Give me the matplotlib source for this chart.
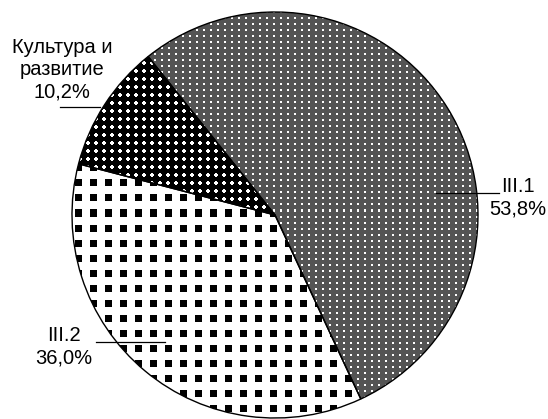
import numpy as np
import matplotlib
matplotlib.use("Agg")
import matplotlib.pyplot as plt

plt.rcParams['font.family'] = ['Liberation Sans', 'DejaVu Sans']

# data
labels = ["III.1", "Культура и\nразвитие", "III.2"]
shares = [53.8, 10.2, 36.0]
pct_text = ["53,8%", "10,2%", "36,0%"]

W, H = 548, 419
CX, CY, R = 275, 215, 203  # pie centre and radius in pixels (from top)


def px(x, y):
    # pixel position (from top-left) -> data coordinates
    return (x - CX) / R, (CY - y) / R


def texture(kind):
    yy, xx = np.mgrid[0:H, 0:W]
    img = np.ones((H, W, 3))
    if kind == "grey_dots":
        img[:] = 0.33
        m = ((xx % 7) < 2) & ((yy % 6) < 2)
        img[m] = 1.0
    elif kind == "black_dots":
        dx = (xx % 8) - 3.5
        dy = (yy % 8) - 3.5
        m = dx ** 2 + dy ** 2 < 4.0 ** 2
        img[m] = 0.0
    elif kind == "squares":
        m = ((xx % 15) < 7) & ((yy % 15) < 7)
        img[m] = 0.0
    return img


fig = plt.figure(figsize=(W / 100, H / 100), dpi=100)
ax = fig.add_axes([0, 0, 1, 1])

wedges, _ = ax.pie(shares, startangle=-65, counterclock=True, radius=1,
                   colors=["none"] * 3,
                   wedgeprops=dict(edgecolor="black", linewidth=1.0))

xl = px(0, 0)[0], px(W, 0)[0]
yl = px(0, H)[1], px(0, 0)[1]
ax.set_xlim(xl)
ax.set_ylim(yl)
ax.set_aspect("auto")
ax.axis("off")

for w, kind in zip(wedges, ["grey_dots", "black_dots", "squares"]):
    im = ax.imshow(texture(kind), extent=(xl[0], xl[1], yl[0], yl[1]),
                   interpolation="nearest", zorder=0.5, aspect="auto")
    im.set_clip_path(w)
    w.set_zorder(2)

# leader lines
def leader(x1, x2, y):
    a = px(x1, y)
    b = px(x2, y)
    ax.plot([a[0], b[0]], [a[1], b[1]], color="black", lw=0.9, zorder=3)

leader(436, 499, 193)
leader(60, 100, 107)
leader(96, 165, 342)

fs = 14.5
t = px(518, 198)
ax.text(t[0], t[1], labels[0] + "\n" + pct_text[0], ha="center", va="center",
        fontsize=fs, linespacing=1.25, zorder=4)
t = px(62, 70)
ax.text(t[0], t[1], labels[1] + "\n" + pct_text[1], ha="center", va="center",
        fontsize=fs, linespacing=1.2, zorder=4)
t = px(64, 347)
ax.text(t[0], t[1], labels[2] + "\n" + pct_text[2], ha="center", va="center",
        fontsize=fs, linespacing=1.25, zorder=4)

fig.savefig("out.png", dpi=100)
